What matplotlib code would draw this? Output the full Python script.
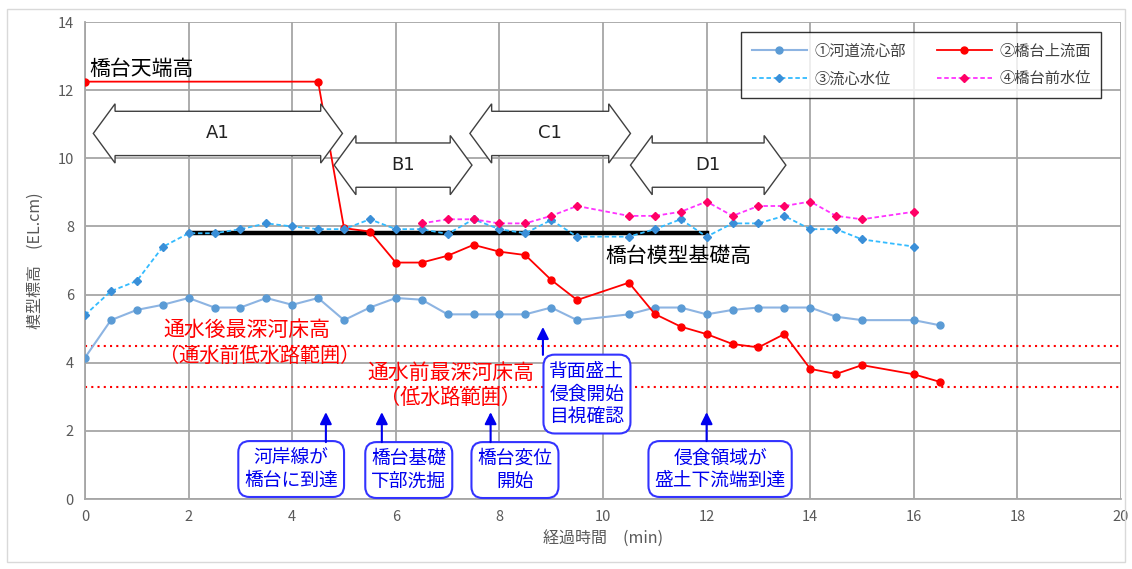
import matplotlib
matplotlib.use('Agg')
import matplotlib.pyplot as plt
from matplotlib.patches import Polygon, Rectangle

plt.rcParams['font.family'] = ['Noto Sans CJK JP', 'DejaVu Sans']

# ---- data ----
t_center = [0, 0.5, 1, 1.5, 2, 2.5, 3, 3.5, 4, 4.5, 5, 5.5, 6, 6.5, 7, 7.5, 8, 8.5, 9, 9.5,
            10.5, 11, 11.5, 12, 12.5, 13, 13.5, 14, 14.5, 15, 16, 16.5]
bed_center = [4.15, 5.25, 5.55, 5.7, 5.9, 5.62, 5.62, 5.9, 5.7, 5.9, 5.25, 5.62, 5.9, 5.85, 5.42,
              5.42, 5.42, 5.42, 5.62, 5.25, 5.42, 5.62, 5.62, 5.42, 5.55, 5.62, 5.62, 5.62, 5.35,
              5.25, 5.25, 5.1]

t_face = [0, 4.5, 5, 5.5, 6, 6.5, 7, 7.5, 8, 8.5, 9, 9.5, 10.5, 11, 11.5, 12, 12.5, 13, 13.5,
          14, 14.5, 15, 16, 16.5]
bed_face = [12.25, 12.25, 7.95, 7.85, 6.94, 6.94, 7.14, 7.46, 7.26, 7.16, 6.43, 5.84, 6.35, 5.43,
            5.06, 4.84, 4.55, 4.45, 4.84, 3.82, 3.67, 3.93, 3.66, 3.44]

t_wl_center = [0, 0.5, 1, 1.5, 2, 2.5, 3, 3.5, 4, 4.5, 5, 5.5, 6, 6.5, 7, 7.5, 8, 8.5, 9, 9.5,
               10.5, 11, 11.5, 12, 12.5, 13, 13.5, 14, 14.5, 15, 16]
wl_center = [5.4, 6.1, 6.4, 7.4, 7.8, 7.8, 7.92, 8.09, 8.0, 7.92, 7.92, 8.21, 7.92, 7.92, 7.78,
             8.21, 7.92, 7.8, 8.19, 7.7, 7.7, 7.92, 8.21, 7.7, 8.09, 8.09, 8.31, 7.92, 7.92,
             7.62, 7.41]

t_wl_front = [6.5, 7, 7.5, 8, 8.5, 9, 9.5, 10.5, 11, 11.5, 12, 12.5, 13, 13.5, 14, 14.5, 15, 16]
wl_front = [8.09, 8.21, 8.21, 8.09, 8.09, 8.31, 8.6, 8.31, 8.31, 8.43, 8.73, 8.31, 8.6, 8.6,
            8.73, 8.31, 8.21, 8.43]

labels = ['①河道流心部', '②橋台上流面', '③流心水位', '④橋台前水位']

base_t = [2, 12]
base_level = 7.8
bed_after = 4.5
bed_before = 3.3

# phases (name, start, end, level)
phase_names = ['A1', 'B1', 'C1', 'D1']
phase_start = [0.16, 4.81, 7.43, 10.53]
phase_end = [4.97, 7.47, 10.53, 13.53]
phase_level = [10.73, 9.80, 10.73, 9.80]

# events (text, time pointed at)
event_texts = ['河岸線が\n橋台に到達', '橋台基礎\n下部洗掘', '橋台変位\n開始',
               '背面盛土\n侵食開始\n目視確認', '侵食領域が\n盛土下流端到達']
event_times = [4.65, 5.73, 7.83, 8.84, 12.0]

# ---- figure ----
fig = plt.figure(figsize=(11.32, 5.69), dpi=100)
fig.patches.append(Rectangle((0.006, 0.012), 0.988, 0.972, transform=fig.transFigure,
                             fill=False, edgecolor='#d9d9d9', lw=1))
ax = fig.add_axes([0.0751, 0.1230, 0.9152, 0.8383])

grid_c = '#a6a6a6'
ax.set_xlim(0, 20)
ax.set_ylim(0, 14)
ax.set_xticks(range(0, 21, 2))
ax.set_yticks(range(0, 15, 2))
ax.grid(True, color=grid_c, lw=1.3)
ax.set_axisbelow(True)
for s in ['top', 'right']:
    ax.spines[s].set_visible(False)
for s in ['left', 'bottom']:
    ax.spines[s].set_color(grid_c)
    ax.spines[s].set_linewidth(1.3)
ax.tick_params(length=0, colors='#595959', labelsize=10.5, pad=8)
ax.set_xlabel('経過時間　(min)', color='#595959', fontsize=11.5, labelpad=5)
ax.set_ylabel('模型標高　(EL.cm)', color='#595959', fontsize=11.5, labelpad=10)

# reference lines
ax.axhline(bed_after, color='red', ls=(0, (1, 2)), lw=1.5, zorder=2)
ax.axhline(bed_before, color='red', ls=(0, (1, 2)), lw=1.5, zorder=2)
ax.plot(base_t, [base_level, base_level], color='black', lw=3.2, zorder=3)

# series
h1, = ax.plot(t_center, bed_center, color='#8db4e2', lw=1.5, marker='o', ms=5,
              mfc='#5b9bd5', mec='#5b9bd5', label=labels[0], zorder=4)
h2, = ax.plot(t_face, bed_face, color='#ff0000', lw=1.3, marker='o', ms=5,
              mfc='#ff0000', mec='#ff0000', label=labels[1], zorder=4)
h3, = ax.plot(t_wl_center, wl_center, color='#33bbff', lw=1.3, ls=(0, (2.5, 1.5)), marker='D',
              ms=4, mfc='#3a8fd8', mec='#3a8fd8', label=labels[2], zorder=4)
h4, = ax.plot(t_wl_front, wl_front, color='#ff33ff', lw=1.3, ls=(0, (2.5, 1.5)), marker='D',
              ms=4, mfc='#ff0066', mec='#ff0066', label=labels[3], zorder=4)

# legend filled row by row: (1, 2) then (3, 4)
leg = ax.legend([h1, h3, h2, h4], [labels[0], labels[2], labels[1], labels[3]],
                ncol=2, loc='upper left', bbox_to_anchor=(0.626, 0.995), fontsize=11,
                frameon=True, fancybox=False, edgecolor='black', handlelength=3.6,
                columnspacing=2.0, borderpad=0.7, labelspacing=0.7, handletextpad=0.5)
leg.get_frame().set_linewidth(1.0)
for txt in leg.get_texts():
    txt.set_color('#404040')

# block double arrows
head_h = 0.87
shaft_h = 0.65
head_l = 0.42
for name, x0, x1, yc in zip(phase_names, phase_start, phase_end, phase_level):
    pts = [(x0, yc), (x0 + head_l, yc + head_h), (x0 + head_l, yc + shaft_h),
           (x1 - head_l, yc + shaft_h), (x1 - head_l, yc + head_h), (x1, yc),
           (x1 - head_l, yc - head_h), (x1 - head_l, yc - shaft_h),
           (x0 + head_l, yc - shaft_h), (x0 + head_l, yc - head_h)]
    ax.add_patch(Polygon(pts, closed=True, facecolor='white', edgecolor='#404040',
                         lw=1.0, zorder=6))
    ax.text((x0 + x1) / 2, yc, name, ha='center', va='center', fontsize=13,
            family='DejaVu Sans', color='#222222', zorder=7)

# text labels
ax.text(0.08, 12.62, '橋台天端高', fontsize=15, color='black', va='center', zorder=5)
ax.text(10.04, 7.13, '橋台模型基礎高', fontsize=15, color='black', va='center', zorder=5)
ax.text(3.13, 4.96, '通水後最深河床高', fontsize=15, color='red', ha='center', va='center')
ax.text(3.38, 4.17, '（通水前低水路範囲）', fontsize=14.5, color='red', ha='center', va='center')
ax.text(7.07, 3.70, '通水前最深河床高', fontsize=15, color='red', ha='center', va='center')
ax.text(7.05, 2.96, '（低水路範囲）', fontsize=14.5, color='red', ha='center', va='center')

# event boxes with arrows
box_x = [3.98, 6.25, 8.30, 9.69, 12.26]
box_y = [0.88, 0.85, 0.85, 3.08, 0.88]
box_top = [1.67, 1.67, 1.67, 4.23, 1.70]
tip_y = [2.55, 2.55, 2.55, 5.05, 2.55]
for txt, tx, bx, by, btop, ty in zip(event_texts, event_times, box_x, box_y, box_top, tip_y):
    ax.text(bx, by, txt, ha='center', va='center', fontsize=13.5, color='#0000ee',
            linespacing=1.12, zorder=8,
            bbox=dict(boxstyle='round,pad=0.32,rounding_size=0.6', fc='white',
                      ec='#3333ff', lw=1.5))
    ax.annotate('', xy=(tx, ty), xytext=(tx, btop),
                arrowprops=dict(arrowstyle='-|>,head_width=0.35,head_length=0.7',
                                color='#0000ee', lw=1.5, shrinkA=0, shrinkB=0), zorder=8)

fig.savefig('out.png', dpi=100)
